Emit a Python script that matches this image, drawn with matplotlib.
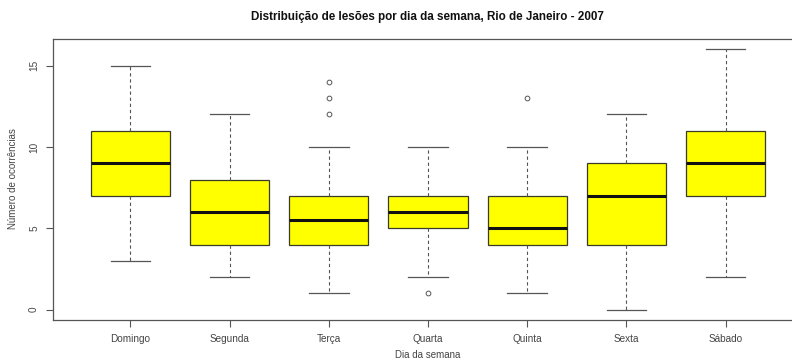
import matplotlib
matplotlib.use("Agg")
import matplotlib.pyplot as plt

plt.rcParams["font.family"] = ["Liberation Sans", "DejaVu Sans"]

# Daily counts summary per weekday (whisker low, Q1, median, Q3, whisker high, outliers)
dias = ["Domingo", "Segunda", "Terça", "Quarta", "Quinta", "Sexta", "Sábado"]
whisker_lo = [3, 2, 1, 2, 1, 0, 2]
q1 = [7, 4, 4, 5, 4, 4, 7]
mediana = [9, 6, 5.5, 6, 5, 7, 9]
q3 = [11, 8, 7, 7, 7, 9, 11]
whisker_hi = [15, 12, 10, 10, 10, 12, 16]
outliers = [[], [], [12, 13, 14], [1], [13], [], []]
yticks = [0, 5, 10, 15]

stats = []
for i, nome in enumerate(dias):
    stats.append({
        "label": nome,
        "whislo": whisker_lo[i],
        "q1": q1[i],
        "med": mediana[i],
        "q3": q3[i],
        "whishi": whisker_hi[i],
        "fliers": outliers[i],
    })

W, H = 792, 364
fig = plt.figure(figsize=(W / 100, H / 100), dpi=100)
# plot region in pixels: left 53, right 803 (extends past the canvas), top 39, bottom 320
left, right, top, bottom = 53, 803, 39, 320
ax = fig.add_axes([left / W, 1 - bottom / H, (right - left) / W, (bottom - top) / H])

line_col = "#555555"
ax.bxp(
    stats,
    positions=range(1, len(dias) + 1),
    widths=0.8,
    patch_artist=True,
    boxprops=dict(facecolor="#ffff00", edgecolor="#3a3a2a", linewidth=0.9),
    medianprops=dict(color="#111111", linewidth=2.2, solid_capstyle="butt"),
    whiskerprops=dict(color=line_col, linewidth=0.8, linestyle=(0, (3, 2.5))),
    capprops=dict(color=line_col, linewidth=0.9),
    capwidths=0.4,
    flierprops=dict(marker="o", markersize=3.4, markerfacecolor="none",
                    markeredgecolor=line_col, markeredgewidth=0.7, linestyle="none"),
)

n = len(dias)
ax.set_xlim(0.5 - 0.04 * n, n + 0.5 + 0.04 * n)
ax.set_ylim(-0.64, 16.64)
ax.set_yticks(yticks)
ax.set_yticklabels([str(t) for t in yticks], rotation=90, va="center")
ax.set_xticks(range(1, n + 1))
ax.set_xticklabels(dias)

for s in ax.spines.values():
    s.set_color(line_col)
    s.set_linewidth(0.9)
ax.spines["right"].set_visible(False)
ax.tick_params(axis="both", colors=line_col, labelcolor="#444444",
               labelsize=7.2, length=5, width=0.8, pad=5)
ax.tick_params(axis="y", pad=5)

fig.text(427.5 / W, 1 - 17 / H, "Distribuição de lesões por dia da semana, Rio de Janeiro - 2007",
         ha="center", va="center", fontsize=8.4, fontweight="bold", color="#111111")
fig.text(428 / W, 1 - 355 / H, "Dia da semana", ha="center", va="center",
         fontsize=7.0, color="#444444")
fig.text(13 / W, 1 - 179 / H, "Número de ocorrências", ha="center", va="center",
         rotation=90, fontsize=7.0, color="#444444")

fig.savefig("out.png", dpi=100)
